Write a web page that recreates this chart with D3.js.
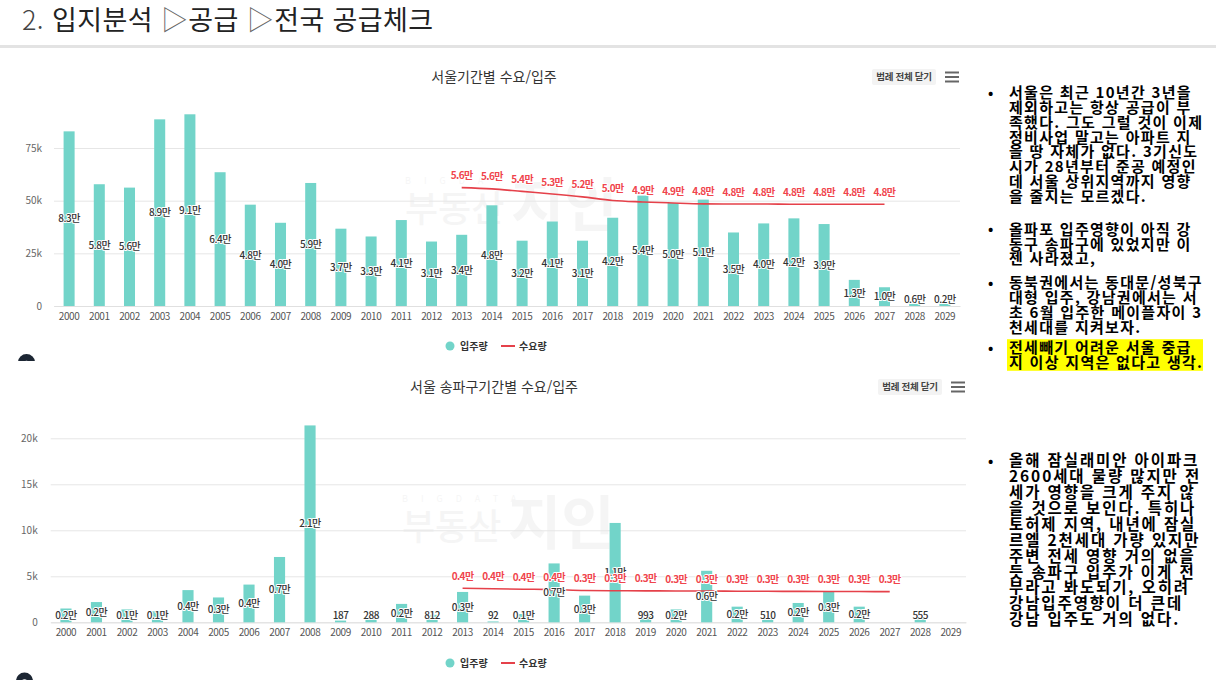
<!DOCTYPE html>
<html lang="ko">
<head>
<meta charset="utf-8">
<script src="https://cdn.jsdelivr.net/npm/d3@7"></script>
<style>
  html, body { margin: 0; padding: 0; background: #fff; }
  svg { display: block; font-family: "Noto Sans CJK KR", "Noto Sans", sans-serif; }
</style>
</head>
<body>
<svg id="page" width="1216" height="684"></svg>
<script>
const years = ['2000', '2001', '2002', '2003', '2004', '2005', '2006', '2007', '2008', '2009',
  '2010', '2011', '2012', '2013', '2014', '2015', '2016', '2017', '2018', '2019',
  '2020', '2021', '2022', '2023', '2024', '2025', '2026', '2027', '2028', '2029'];
const demandYears = ['2013', '2014', '2015', '2016', '2017', '2018', '2019', '2020',
  '2021', '2022', '2023', '2024', '2025', '2026', '2027'];

// 서울 입주량 (세대)
const seoulSupply = [82900, 57800, 56200, 88600, 91000, 63500, 48100, 39500, 58400, 36700,
  33000, 40800, 30600, 33800, 47800, 31000, 40100, 31000, 41900, 52400,
  48900, 50500, 34900, 39200, 41600, 38900, 12400, 8900, 1000, 1000];
const seoulSupplyLabels = ['8.3만', '5.8만', '5.6만', '8.9만', '9.1만', '6.4만', '4.8만', '4.0만', '5.9만', '3.7만',
  '3.3만', '4.1만', '3.1만', '3.4만', '4.8만', '3.2만', '4.1만', '3.1만', '4.2만', '5.4만',
  '5.0만', '5.1만', '3.5만', '4.0만', '4.2만', '3.9만', '1.3만', '1.0만', '0.6만', '0.2만'];
const seoulDemand = [56200, 55600, 54400, 53200, 51800, 50100, 49400, 48900, 48500, 48400,
  48400, 48300, 48300, 48300, 48300];
const seoulDemandLabels = ['5.6만', '5.6만', '5.4만', '5.3만', '5.2만', '5.0만', '4.9만', '4.9만',
  '4.8만', '4.8만', '4.8만', '4.8만', '4.8만', '4.8만', '4.8만'];
const seoulTicks = [0, 25000, 50000, 75000];

// 송파구 입주량 (세대)
const songpaSupply = [1500, 2200, 1400, 1200, 3500, 2700, 4100, 7100, 21400, 187,
  288, 2000, 812, 3300, 92, 900, 6400, 2900, 10800, 993,
  1400, 5600, 1700, 510, 2100, 3300, 1700, 0, 555, 0];
const songpaSupplyLabels = ['0.2만', '0.2만', '0.1만', '0.1만', '0.4만', '0.3만', '0.4만', '0.7만', '2.1만', '187',
  '288', '0.2만', '812', '0.3만', '92', '0.1만', '0.7만', '0.3만', '1.1만', '993',
  '0.2만', '0.6만', '0.2만', '510', '0.2만', '0.3만', '0.2만', null, '555', null];
const songpaDemand = [3700, 3650, 3600, 3550, 3450, 3430, 3420, 3400, 3400, 3380,
  3370, 3360, 3350, 3340, 3330];
const songpaDemandLabels = ['0.4만', '0.4만', '0.4만', '0.4만', '0.3만', '0.3만', '0.3만', '0.3만',
  '0.3만', '0.3만', '0.3만', '0.3만', '0.3만', '0.3만', '0.3만'];
const songpaTicks = [0, 5000, 10000, 15000, 20000];

const seoulNotes = [
  ['서울은 최근 10년간 3년을', '제외하고는 항상 공급이 부', '족했다. 그도 그럴 것이 이제', '정비사업 말고는 아파트 지',
    '을 땅 자체가 없다. 3기신도', '시가 28년부터 준공 예정인', '데 서울 상위지역까지 영향', '을 줄지는 모르겠다.'],
  ['올파포 입주영향이 아직 강', '동구 송파구에 있었지만 이', '젠 사라졌고,'],
  ['동북권에서는 동대문/성북구', '대형 입주, 강남권에서는 서', '초 6월 입주한 메이플자이 3', '천세대를 지켜보자.'],
  ['전세빼기 어려운 서울 중급', '지 이상 지역은 없다고 생각.'],
];
const songpaNotes = [
  ['올해 잠실래미안 아이파크', '2600세대 물량 많지만 전', '세가 영향을 크게 주지 않', '을 것으로 보인다. 특히나',
    '토허제 지역, 내년에 잠실', '르엘 2천세대 가량 있지만', '주변 전세 영향 거의 없을', '듯 송파구 입주가 이게 전',
    '부라고 봐도되기, 오히려', '강남입주영향이 더 큰데', '강남 입주도 거의 없다.'],
];

const barColor = '#72d4c9';
const lineColor = '#e5414a';
const svg = d3.select('#page');

// header
const header = svg.append('text').attr('x', 22).attr('y', 30).attr('font-size', 27)
  .attr('letter-spacing', 0.4).attr('fill', '#222');
header.append('tspan').attr('fill', '#444').attr('font-weight', 300).text('2. ');
header.append('tspan').text('입지분석 ');
header.append('tspan').attr('fill', '#666').attr('font-weight', 300).text('▷');
header.append('tspan').text('공급 ');
header.append('tspan').attr('fill', '#666').attr('font-weight', 300).text('▷');
header.append('tspan').text('전국 공급체크');
svg.append('rect').attr('x', 0).attr('y', 45).attr('width', 1216).attr('height', 3).attr('fill', '#e3e3e3');

const drawChart = (opt) => {
  const g = svg.append('g');

  const x = d3.scaleBand().domain(years).range([opt.left, opt.right])
    .paddingInner(0.635).paddingOuter(0.3175);
  const topTick = opt.ticks[opt.ticks.length - 1];
  const y = d3.scaleLinear().domain([0, topTick]).range([opt.base, opt.topY]);

  // watermark
  const wm = g.append('g').attr('fill', '#000').attr('opacity', 0.035);
  wm.append('text').attr('x', opt.wmX).attr('y', opt.wmY - 24).attr('font-size', 9)
    .attr('letter-spacing', 13).text('BIGDATA');
  wm.append('text').attr('x', opt.wmX).attr('y', opt.wmY + 14).attr('font-size', 36)
    .attr('font-weight', 500).text('부동산');
  wm.append('text').attr('x', opt.wmX + 106).attr('y', opt.wmY + 18).attr('font-size', 58)
    .attr('font-weight', 700).text('지인');

  // title + menu
  g.append('text').attr('x', 494).attr('y', opt.titleY).attr('text-anchor', 'middle')
    .attr('dy', '0.36em').attr('font-size', 14).attr('fill', '#333').text(opt.title);
  g.append('rect').attr('x', opt.btnX).attr('y', opt.titleY - 8).attr('width', 64).attr('height', 16)
    .attr('fill', '#f3f3f3').attr('rx', 2);
  g.append('text').attr('x', opt.btnX + 32).attr('y', opt.titleY).attr('dy', '0.36em')
    .attr('text-anchor', 'middle').attr('font-size', 9.5).attr('font-weight', 700).attr('fill', '#444')
    .attr('letter-spacing', -0.3).text('범례 전체 닫기');
  [-4.5, 0, 4.5].forEach((d) => {
    g.append('line').attr('x1', opt.btnX + 73).attr('x2', opt.btnX + 87)
      .attr('y1', opt.titleY + d).attr('y2', opt.titleY + d)
      .attr('stroke', '#666').attr('stroke-width', 2);
  });

  // grid + y axis
  const yAxis = g.append('g').attr('transform', `translate(${opt.left},0)`)
    .call(d3.axisLeft(y).tickValues(opt.ticks).tickSize(-(opt.right - opt.left))
      .tickFormat((d) => (d === 0 ? '0' : `${d / 1000}k`)));
  yAxis.select('.domain').remove();
  yAxis.selectAll('.tick line').attr('stroke', '#e6e6e6');
  yAxis.selectAll('.tick text').attr('x', -opt.labelGap).attr('fill', '#666')
    .attr('font-size', 10).attr('font-family', '"Noto Sans CJK KR", sans-serif');

  // x axis labels
  const xAxis = g.append('g').attr('transform', `translate(0,${opt.base})`)
    .call(d3.axisBottom(x).tickSize(0).tickPadding(7));
  xAxis.select('.domain').attr('stroke', '#e0e0e0');
  xAxis.selectAll('.tick text').attr('fill', '#555').attr('font-size', 10)
    .attr('letter-spacing', -0.4).attr('font-family', '"Noto Sans CJK KR", sans-serif');

  // bars
  const bars = years.map((yr, i) => ({ yr, v: opt.supply[i], label: opt.supplyLabels[i] }));
  g.append('g').selectAll('rect').data(bars.filter((d) => d.v > 0)).enter().append('rect')
    .attr('x', (d) => x(d.yr)).attr('width', x.bandwidth())
    .attr('y', (d) => y(d.v)).attr('height', (d) => opt.base - y(d.v))
    .attr('fill', barColor);

  // demand line
  const demand = demandYears.map((yr, i) => ({ yr, v: opt.demand[i], label: opt.demandLabels[i] }));
  const line = d3.line().x((d) => x(d.yr) + x.bandwidth() / 2).y((d) => y(d.v)).curve(d3.curveMonotoneX);
  g.append('path').datum(demand).attr('d', line).attr('fill', 'none')
    .attr('stroke', lineColor).attr('stroke-width', 1.6);

  // bar labels
  g.append('g').selectAll('text').data(bars.filter((d) => d.label)).enter().append('text')
    .attr('x', (d) => x(d.yr) + x.bandwidth() / 2)
    .attr('y', (d) => Math.min((y(d.v) + opt.base) / 2, opt.base - 7))
    .attr('dy', '0.36em').attr('text-anchor', 'middle')
    .attr('font-size', 10).attr('font-weight', 500).attr('letter-spacing', -0.5)
    .attr('fill', '#333').attr('stroke', '#fff').attr('stroke-width', 2)
    .attr('paint-order', 'stroke').attr('stroke-linejoin', 'round')
    .text((d) => d.label);

  // demand labels
  g.append('g').selectAll('text').data(demand).enter().append('text')
    .attr('x', (d) => x(d.yr) + x.bandwidth() / 2)
    .attr('y', (d) => y(d.v) - 12)
    .attr('dy', '0.36em').attr('text-anchor', 'middle')
    .attr('font-size', 10).attr('font-weight', 700).attr('letter-spacing', -0.6)
    .attr('fill', '#f0444c').attr('stroke', '#fff').attr('stroke-width', 2)
    .attr('paint-order', 'stroke').attr('stroke-linejoin', 'round')
    .text((d) => d.label);

  // legend
  const lg = g.append('g').attr('font-size', 10).attr('font-weight', 700).attr('fill', '#333');
  lg.append('circle').attr('cx', 450).attr('cy', opt.legendY).attr('r', 4.5).attr('fill', barColor);
  lg.append('text').attr('x', 460).attr('y', opt.legendY).attr('dy', '0.36em').text('입주량');
  lg.append('line').attr('x1', 501).attr('x2', 515).attr('y1', opt.legendY).attr('y2', opt.legendY)
    .attr('stroke', lineColor).attr('stroke-width', 2);
  lg.append('text').attr('x', 519).attr('y', opt.legendY).attr('dy', '0.36em').text('수요량');

  // corner logo (cut off)
  const clipId = `clip-${opt.legendY}`;
  svg.append('clipPath').attr('id', clipId).append('rect')
    .attr('x', 0).attr('y', 0).attr('width', 60).attr('height', opt.iconClip);
  const ic = g.append('g').attr('clip-path', `url(#${clipId})`);
  ic.append('circle').attr('cx', opt.iconX).attr('cy', opt.iconY).attr('r', 8.5).attr('fill', '#1c2633');
  ic.append('circle').attr('cx', opt.iconX).attr('cy', opt.iconY + 1.5).attr('r', 3.2).attr('fill', '#fff');
};

drawChart({
  title: '서울기간별 수요/입주', titleY: 77, btnX: 872,
  left: 54, right: 960, base: 306, topY: 148, labelGap: 12,
  ticks: seoulTicks, supply: seoulSupply, supplyLabels: seoulSupplyLabels,
  demand: seoulDemand, demandLabels: seoulDemandLabels,
  legendY: 346, wmX: 405, wmY: 208, iconX: 26.5, iconY: 362.5, iconClip: 361,
});

drawChart({
  title: '서울 송파구기간별 수요/입주', titleY: 387, btnX: 878,
  left: 50.7, right: 966, base: 622.3, topY: 438.3, labelGap: 13,
  ticks: songpaTicks, supply: songpaSupply, supplyLabels: songpaSupplyLabels,
  demand: songpaDemand, demandLabels: songpaDemandLabels,
  legendY: 663, wmX: 402, wmY: 526, iconX: 24.5, iconY: 681, iconClip: 680,
});

// side notes
const drawNotes = (blocks, starts, fontSize, lineH, spacing, highlightLast) => {
  const g = svg.append('g').attr('font-size', fontSize).attr('font-weight', 700).attr('fill', '#000');
  blocks.forEach((lines, bi) => {
    const cy = starts[bi];
    if (highlightLast && bi === blocks.length - 1) {
      g.append('rect').attr('x', 1007).attr('y', cy - 8.5)
        .attr('width', 196).attr('height', lines.length * lineH + 2).attr('fill', '#ffff00');
    }
    g.append('text').attr('x', 988).attr('y', cy).attr('dy', '0.36em').attr('font-size', 14).text('•');
    g.selectAll(null).data(lines).enter().append('text')
      .attr('x', 1009).attr('y', (d, i) => cy + i * lineH).attr('dy', '0.36em')
      .attr('letter-spacing', spacing).text((d) => d);
  });
};

drawNotes(seoulNotes, [92.7, 229.3, 282.7, 347.7], 15, 14.8, 1.3, true);
drawNotes(songpaNotes, [460.7], 15.5, 15.9, 1.9, false);
</script>
</body>
</html>
